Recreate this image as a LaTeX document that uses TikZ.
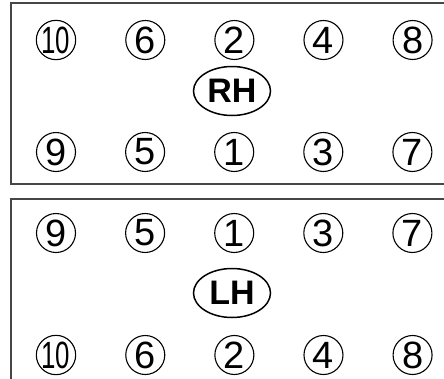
\documentclass[tikz,border=0pt]{standalone}
\usepackage{fontspec}
\setmainfont{Liberation Sans}
\usepackage{graphicx}
\usetikzlibrary{positioning, shapes.geometric}
\definecolor{framegray}{RGB}{70, 70, 70}

\begin{document}
\begin{tikzpicture}[
    x=1pt, y=-1pt,
    node distance=49pt,
    bolt/.style={draw, circle, line width=1.1pt, minimum size=39pt, inner sep=0pt,
                 font=\fontsize{38}{38}\selectfont},
    side/.style={draw, ellipse, line width=1.5pt, minimum width=77pt, minimum height=49pt,
                 inner sep=0pt, font=\fontsize{34}{34}\selectfont\bfseries},
    frame/.style={draw=framegray, line width=1.2pt}
]
    \useasboundingbox (0,0) rectangle (444,378);
    \draw[frame] (11,3) rectangle (452,184);
    \draw[frame] (11,199) rectangle (452,392);

    % RH bank
    \node[bolt] (r10) at (56,40) {\scalebox{0.68}[1]{10}};
    \node[bolt, right=of r10] (r6) {6};
    \node[bolt, right=of r6] (r2) {2};
    \node[bolt, right=of r2] (r4) {4};
    \node[bolt, right=of r4] (r8) {8};
    \node[side] (rh) at (232,91) {RH};
    \node[bolt] (r9) at (56,152) {9};
    \node[bolt, right=of r9] (r5) {5};
    \node[bolt, right=of r5] (r1) {1};
    \node[bolt, right=of r1] (r3) {3};
    \node[bolt, right=of r3] (r7) {7};

    % LH bank
    \node[bolt] (l9) at (56,233) {9};
    \node[bolt, right=of l9] (l5) {5};
    \node[bolt, right=of l5] (l1) {1};
    \node[bolt, right=of l1] (l3) {3};
    \node[bolt, right=of l3] (l7) {7};
    \node[side] (lh) at (232,293) {LH};
    \node[bolt] (l10) at (56,355) {\scalebox{0.68}[1]{10}};
    \node[bolt, right=of l10] (l6) {6};
    \node[bolt, right=of l6] (l2) {2};
    \node[bolt, right=of l2] (l4) {4};
    \node[bolt, right=of l4] (l8) {8};
\end{tikzpicture}
\end{document}
